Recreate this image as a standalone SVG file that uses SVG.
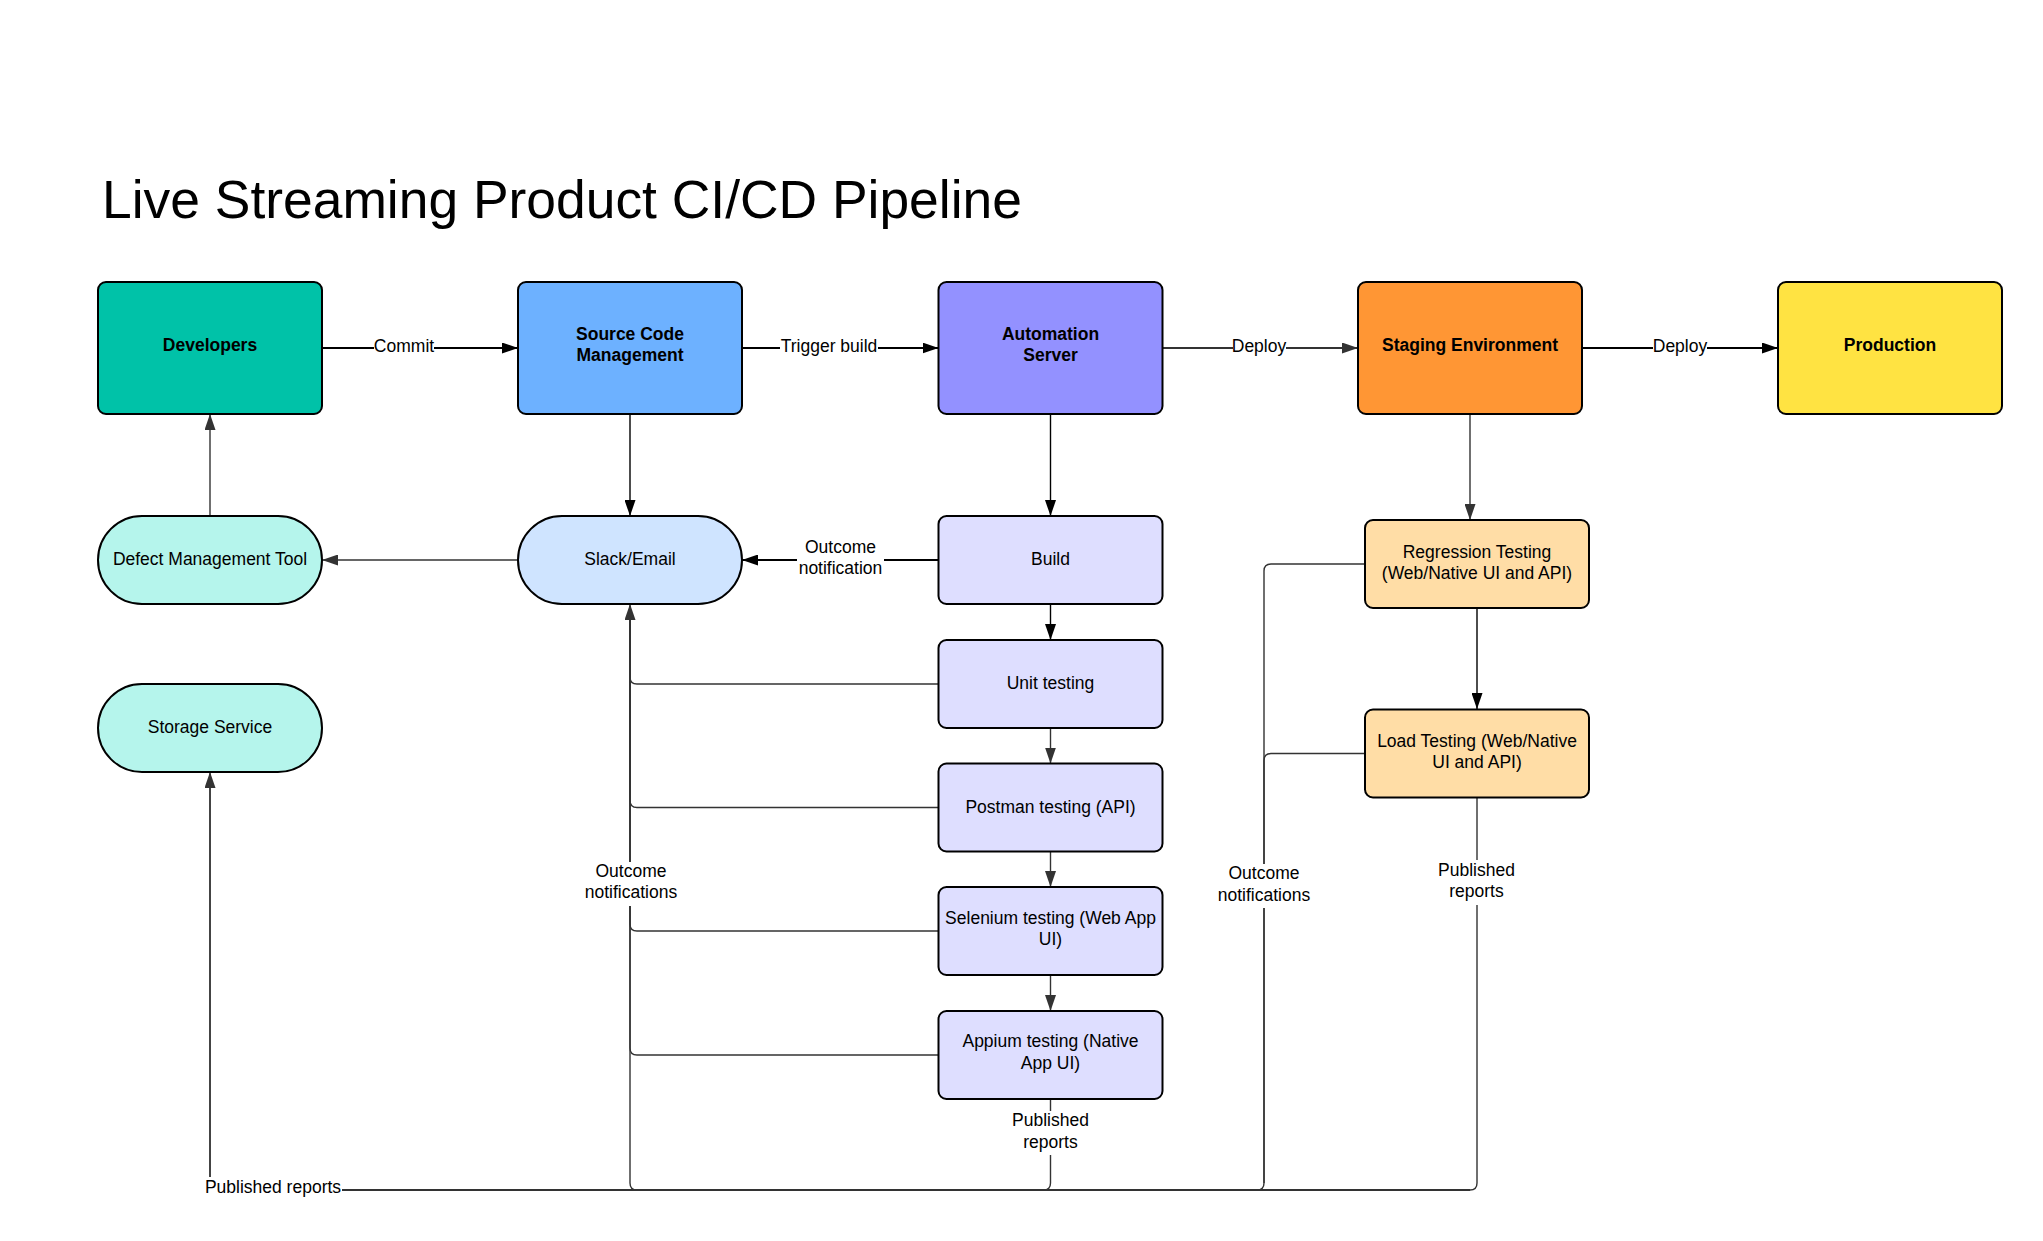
<svg xmlns="http://www.w3.org/2000/svg" width="2043" height="1241" viewBox="0 0 2043 1241">
<defs>
<style>
.t{font-family:"Liberation Sans",Arial,sans-serif;font-size:17.5px;fill:#000;text-anchor:middle}
.b{font-weight:bold}
.n{stroke:#000;stroke-width:2}
.c{fill:none;stroke:#333;stroke-width:1.4}
.k{fill:none;stroke:#000;stroke-width:1.4}
.w{stroke-width:2}
.bg{fill:#fff}
</style>
<marker id="ak" markerUnits="userSpaceOnUse" markerWidth="16" markerHeight="11" refX="16" refY="5.5" orient="auto"><path d="M0,0 L16,5.5 L0,11 z" fill="#000"/></marker>
<marker id="ag" markerUnits="userSpaceOnUse" markerWidth="16" markerHeight="11" refX="16" refY="5.5" orient="auto"><path d="M0,0 L16,5.5 L0,11 z" fill="#333"/></marker>
</defs>
<rect width="2043" height="1241" fill="#fff"/>
<text x="102" y="218" style="font-family:'Liberation Sans',Arial,sans-serif;font-size:53.4px;fill:#000">Live Streaming Product CI/CD Pipeline</text>

<g id="connectors">
<path class="k w" d="M322,348 H518" marker-end="url(#ak)"/>
<path class="k w" d="M742,348 H938.5" marker-end="url(#ak)"/>
<path class="c w" d="M1162.5,348 H1358" marker-end="url(#ag)"/>
<path class="k w" d="M1582.5,348 H1778" marker-end="url(#ak)"/>
<path class="k" d="M630,414 V516" marker-end="url(#ak)"/>
<path class="k" d="M1050.5,414 V516" marker-end="url(#ak)"/>
<path class="c" d="M1470,414 V520" marker-end="url(#ag)"/>
<path class="k" d="M1477,608 V709" marker-end="url(#ak)"/>
<path class="k" d="M1050.5,604 V640" marker-end="url(#ak)"/>
<path class="c" d="M1050.5,728 V763.5" marker-end="url(#ag)"/>
<path class="c" d="M1050.5,851.5 V887" marker-end="url(#ag)"/>
<path class="c" d="M1050.5,975 V1011" marker-end="url(#ag)"/>
<path class="k w" d="M938.5,560 H742" marker-end="url(#ak)"/>
<path class="c" d="M518,560 H322" marker-end="url(#ag)"/>
<path class="c" d="M210,516 V414" marker-end="url(#ag)"/>
<path class="c" d="M938.5,684 H637 Q630,684 630,677 V606"/>
<path class="c" d="M938.5,807.5 H637 Q630,807.5 630,800.5 V606"/>
<path class="c" d="M938.5,931 H637 Q630,931 630,924 V606"/>
<path class="c" d="M938.5,1055 H637 Q630,1055 630,1048 V606"/>
<path class="c" d="M1365,564 H1271 Q1264,564 1264,571 V1183 Q1264,1190 1257,1190 H637 Q630,1190 630,1183 V604" marker-end="url(#ag)"/>
<path class="c" d="M1365,753.5 H1271 Q1264,753.5 1264,760.5 V1183"/>
<path class="c" d="M1050.5,1099 V1183 Q1050.5,1190 1043.5,1190 H217 Q210,1190 210,1183 V774"/>
<path class="c" d="M1477,798 V1183 Q1477,1190 1470,1190 H217 Q210,1190 210,1183 V772" marker-end="url(#ag)"/>
<path class="c" d="M217,1190 H1470" style="stroke-width:2"/>
<rect class="bg" x="374" y="337" width="60" height="20"/>
<text class="t" x="404" y="352">Commit</text>
<rect class="bg" x="780" y="337" width="98" height="20"/>
<text class="t" x="829" y="352">Trigger build</text>
<rect class="bg" x="1233" y="337" width="53" height="20"/>
<text class="t" x="1259" y="352">Deploy</text>
<rect class="bg" x="1653" y="337" width="54" height="20"/>
<text class="t" x="1680" y="352">Deploy</text>
<rect class="bg" x="797" y="538" width="87" height="42"/>
<text class="t" x="840.5" y="553">Outcome</text>
<text class="t" x="840.5" y="574">notification</text>
<rect class="bg" x="584" y="862" width="94" height="44"/>
<text class="t" x="631" y="877">Outcome</text>
<text class="t" x="631" y="898">notifications</text>
<rect class="bg" x="1217" y="864" width="94" height="44"/>
<text class="t" x="1264" y="879">Outcome</text>
<text class="t" x="1264" y="900.5">notifications</text>
<rect class="bg" x="1010" y="1111" width="81" height="44"/>
<text class="t" x="1050.5" y="1126">Published</text>
<text class="t" x="1050.5" y="1147.5">reports</text>
<rect class="bg" x="1436" y="860" width="81" height="45"/>
<text class="t" x="1476.5" y="875.5">Published</text>
<text class="t" x="1476.5" y="896.5">reports</text>
<rect class="bg" x="204" y="1177" width="138" height="22"/>
<text class="t" x="273" y="1193">Published reports</text>
</g>

<g id="developers"><rect class="n" x="98" y="282" width="224" height="132" rx="8" fill="#00C2A8"/><text class="t b" x="210" y="351">Developers</text></g>
<g id="scm"><rect class="n" x="518" y="282" width="224" height="132" rx="8" fill="#6DB1FF"/><text class="t b" x="630" y="340">Source Code</text><text class="t b" x="630" y="361">Management</text></g>
<g id="automation"><rect class="n" x="938.5" y="282" width="224" height="132" rx="8" fill="#9391FF"/><text class="t b" x="1050.5" y="340">Automation</text><text class="t b" x="1050.5" y="361">Server</text></g>
<g id="staging"><rect class="n" x="1358" y="282" width="224" height="132" rx="8" fill="#FF9634"/><text class="t b" x="1470" y="351">Staging Environment</text></g>
<g id="production"><rect class="n" x="1778" y="282" width="224" height="132" rx="8" fill="#FFE342"/><text class="t b" x="1890" y="351">Production</text></g>

<g id="defect"><rect class="n" x="98" y="516" width="224" height="88" rx="44" fill="#B5F5EC"/><text class="t" x="210" y="565">Defect Management Tool</text></g>
<g id="slack"><rect class="n" x="518" y="516" width="224" height="88" rx="44" fill="#CFE4FF"/><text class="t" x="630" y="565">Slack/Email</text></g>
<g id="storage"><rect class="n" x="98" y="684" width="224" height="88" rx="44" fill="#B5F5EC"/><text class="t" x="210" y="733">Storage Service</text></g>

<g id="build"><rect class="n" x="938.5" y="516" width="224" height="88" rx="8" fill="#DEDEFF"/><text class="t" x="1050.5" y="565">Build</text></g>
<g id="unit"><rect class="n" x="938.5" y="640" width="224" height="88" rx="8" fill="#DEDEFF"/><text class="t" x="1050.5" y="689">Unit testing</text></g>
<g id="postman"><rect class="n" x="938.5" y="763.5" width="224" height="88" rx="8" fill="#DEDEFF"/><text class="t" x="1050.5" y="812.5">Postman testing (API)</text></g>
<g id="selenium"><rect class="n" x="938.5" y="887" width="224" height="88" rx="8" fill="#DEDEFF"/><text class="t" x="1050.5" y="923.5">Selenium testing (Web App</text><text class="t" x="1050.5" y="945">UI)</text></g>
<g id="appium"><rect class="n" x="938.5" y="1011" width="224" height="88" rx="8" fill="#DEDEFF"/><text class="t" x="1050.5" y="1047">Appium testing (Native</text><text class="t" x="1050.5" y="1068.5">App UI)</text></g>

<g id="regression"><rect class="n" x="1365" y="520" width="224" height="88" rx="8" fill="#FFDDA6"/><text class="t" x="1477" y="557.5">Regression Testing</text><text class="t" x="1477" y="578.5">(Web/Native UI and API)</text></g>
<g id="load"><rect class="n" x="1365" y="709.5" width="224" height="88" rx="8" fill="#FFDDA6"/><text class="t" x="1477" y="747">Load Testing (Web/Native</text><text class="t" x="1477" y="768">UI and API)</text></g>
</svg>
